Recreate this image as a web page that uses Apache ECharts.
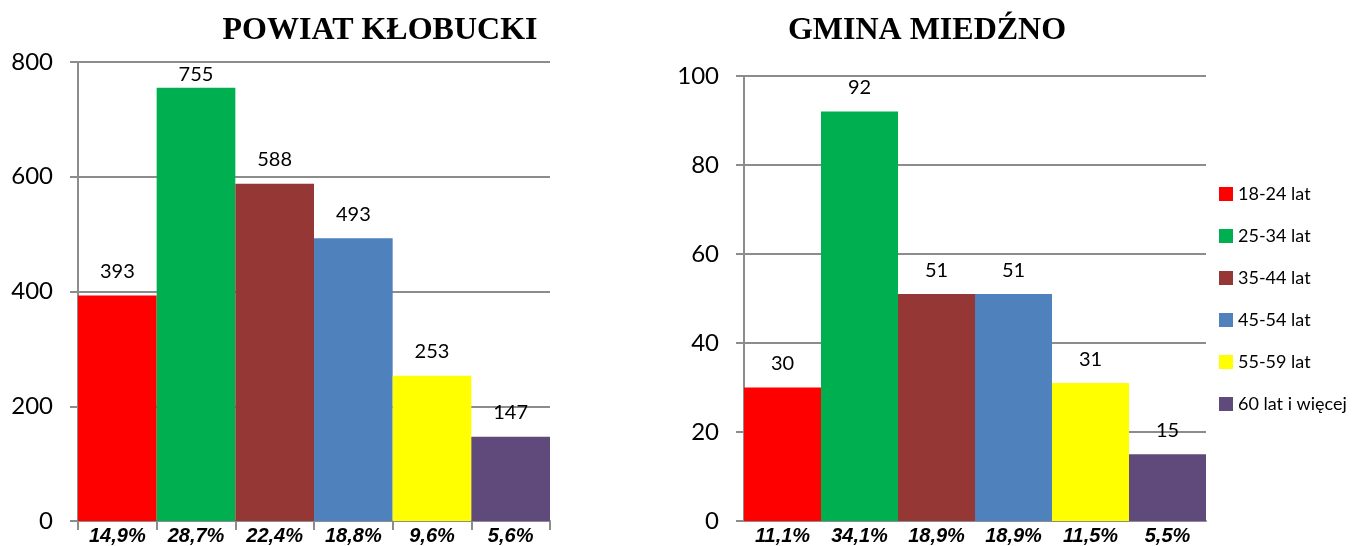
<!DOCTYPE html>
<html>
<head>
<meta charset="utf-8">
<script src="https://cdn.jsdelivr.net/npm/echarts@6/dist/echarts.min.js"></script>
<style>
  html, body { margin: 0; padding: 0; background: #fff; }
  #chart { width: 1354px; height: 546px; }
</style>
</head>
<body>
<div id="chart"></div>
<script>
// age groups (legend) and bar colours
var ageGroups = ['18-24 lat', '25-34 lat', '35-44 lat', '45-54 lat', '55-59 lat', '60 lat i więcej'];
var colors = ['#ff0000', '#00b050', '#953735', '#4f81bd', '#ffff00', '#604a7b'];

// powiat kłobucki
var powiatValues = [393, 755, 588, 493, 253, 147];
var powiatShares = ['14,9%', '28,7%', '22,4%', '18,8%', '9,6%', '5,6%'];
var powiatTicks = [0, 200, 400, 600, 800];

// gmina miedźno
var gminaValues = [30, 92, 51, 51, 31, 15];
var gminaShares = ['11,1%', '34,1%', '18,9%', '18,9%', '11,5%', '5,5%'];
var gminaTicks = [0, 20, 40, 60, 80, 100];

var gridGray = '#8c8c8c';

function makeSeries(values, idx, stack, axisIdx) {
    return ageGroups.map(function (name, i) {
        var data = values.map(function () { return '-'; });
        data[i] = values[i];
        return {
            name: name,
            type: 'bar',
            stack: stack,
            xAxisIndex: axisIdx,
            yAxisIndex: axisIdx,
            barWidth: '100%',
            itemStyle: { color: colors[i] },
            label: {
                show: true,
                position: 'top',
                // the tallest bar's label is squeezed under the top gridline
                distance: (stack === 'p' && values[i] > 700) ? 3 : 14,
                color: '#000',
                fontFamily: 'Lato',
                fontSize: 20
            },
            data: data
        };
    });
}

function xAxis(idx, shares, showTicks) {
    return {
        type: 'category',
        gridIndex: idx,
        data: shares,
        axisLine: { lineStyle: { color: gridGray, width: 2 } },
        axisTick: { show: showTicks, length: 9, lineStyle: { color: gridGray, width: 2 } },
        axisLabel: {
            margin: 5,
            color: '#000',
            fontFamily: 'Liberation Sans',
            fontWeight: 'bold',
            fontStyle: 'italic',
            fontSize: 20
        }
    };
}

function yAxis(idx, ticks) {
    return {
        type: 'value',
        gridIndex: idx,
        min: ticks[0],
        max: ticks[ticks.length - 1],
        interval: ticks[1] - ticks[0],
        axisLine: { show: true, lineStyle: { color: gridGray, width: 2 } },
        axisTick: { show: true, length: 8, lineStyle: { color: gridGray, width: 2 } },
        splitLine: { show: true, lineStyle: { color: gridGray, width: 2 } },
        axisLabel: {
            margin: 25,
            color: '#000',
            fontFamily: 'Lato',
            fontSize: 24
        }
    };
}

var chart = echarts.init(document.getElementById('chart'));
chart.setOption({
    animation: false,
    title: [
        {
            text: 'POWIAT KŁOBUCKI',
            left: 375, top: 10, textAlign: 'center',
            textStyle: { fontFamily: 'Liberation Serif', fontWeight: 'bold', fontSize: 32, color: '#000' }
        },
        {
            text: 'GMINA MIEDŹNO',
            left: 922, top: 10, textAlign: 'center',
            textStyle: { fontFamily: 'Liberation Serif', fontWeight: 'bold', fontSize: 32, color: '#000' }
        }
    ],
    legend: {
        data: ageGroups,
        orient: 'vertical',
        left: 1214,
        top: 180,
        itemWidth: 14,
        itemHeight: 14,
        itemGap: 24,
        icon: 'rect',
        textStyle: { fontFamily: 'Lato', fontSize: 18, color: '#000' },
        selectedMode: true
    },
    grid: [
        { left: 78, right: 804, top: 62, bottom: 22 },
        { left: 744, right: 148, top: 76, bottom: 20 }
    ],
    xAxis: [xAxis(0, powiatShares, true), xAxis(1, gminaShares, false)],
    yAxis: [yAxis(0, powiatTicks), yAxis(1, gminaTicks)],
    series: makeSeries(powiatValues, 0, 'p', 0).concat(makeSeries(gminaValues, 1, 'g', 1))
});
</script>
</body>
</html>
